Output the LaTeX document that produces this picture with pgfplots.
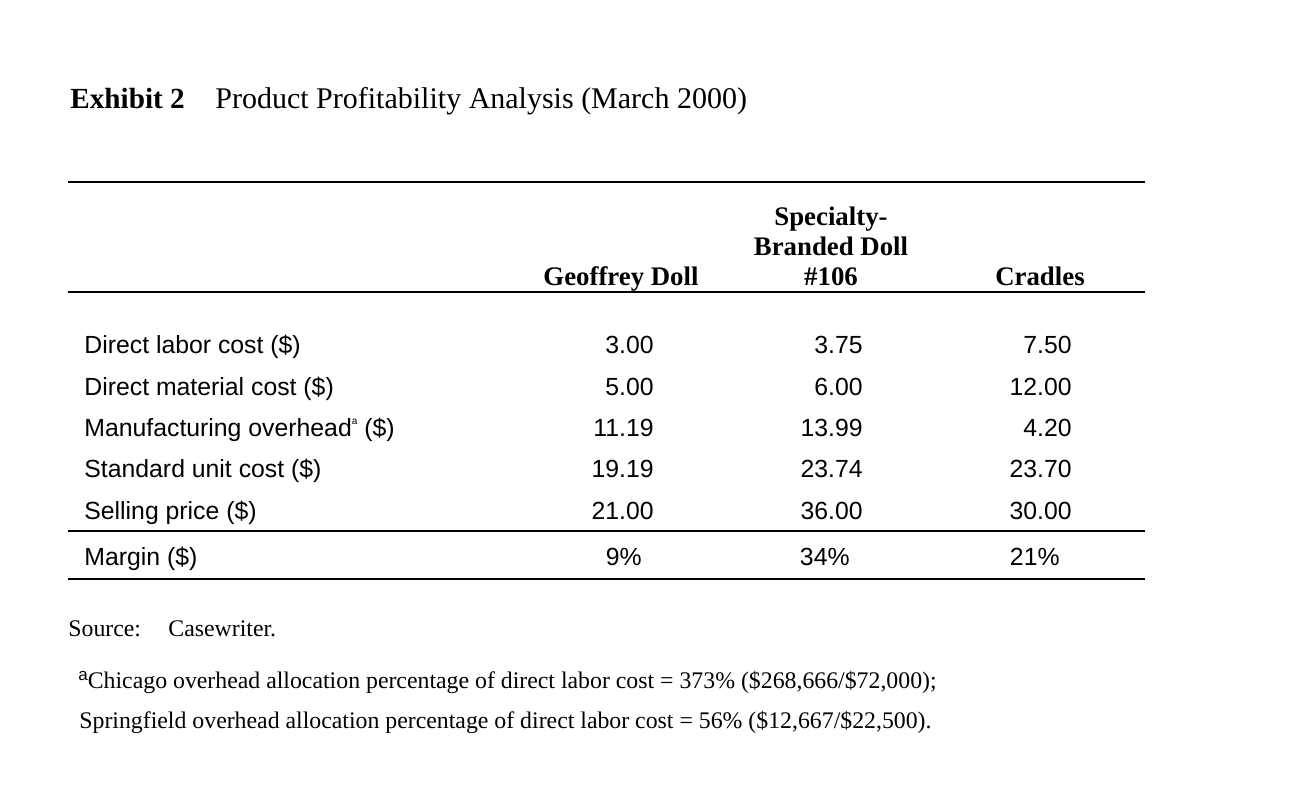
\documentclass[border=0pt]{standalone}
\usepackage{pgfplots}
\pgfplotsset{compat=1.18}
\usepackage{pgfplotstable}
\usepackage{fontspec}
\setmainfont{Liberation Serif}
\setsansfont{Liberation Sans}

% column x = right edge of the number (px), y = baseline (px)
\pgfplotstableread{
x y label
654 353 3.00
654 395 5.00
654 436 11.19
654 477 19.19
654 519 21.00
642 565 9\%
}\geoffrey
\pgfplotstableread{
x y label
863 353 3.75
863 395 6.00
863 436 13.99
863 477 23.74
863 519 36.00
850 565 34\%
}\specialty
\pgfplotstableread{
x y label
1072 353 7.50
1072 395 12.00
1072 436 4.20
1072 477 23.70
1072 519 30.00
1060 565 21\%
}\cradles

\begin{document}
\begin{tikzpicture}
\begin{axis}[
  scale only axis, width=645pt, height=394pt,
  xmin=0, xmax=1290, ymin=0, ymax=788, y dir=reverse,
  axis lines=none, clip=false,
]
\path (axis cs:0,0) rectangle (axis cs:1290,788);
\pgfplotsset{cell/.style={draw=none, mark=none, nodes near coords, point meta=explicit symbolic,
  nodes near coords style={anchor=base east, inner sep=0pt, font=\sffamily\fontsize{12.4}{14}\selectfont, text=black}}}
\addplot[cell] table[meta=label] {\geoffrey};
\addplot[cell] table[meta=label] {\specialty};
\addplot[cell] table[meta=label] {\cradles};

% rules
\addplot[black, line width=1pt] coordinates {(68,182) (1145,182)};
\addplot[black, line width=1pt] coordinates {(68,292) (1145,292)};
\addplot[black, line width=1pt] coordinates {(68,531) (1145,531)};
\addplot[black, line width=1pt] coordinates {(68,579) (1145,579)};

% title
\node[anchor=base west, inner sep=0pt, font=\fontsize{14.6}{17}\selectfont\bfseries] at (axis cs:70,108) {Exhibit 2};
\node[anchor=base west, inner sep=0pt, font=\fontsize{15}{17}\selectfont] at (axis cs:215,108) {Product Profitability Analysis (March 2000)};

% headers
\tikzset{hd/.style={anchor=base, inner sep=0pt, font=\fontsize{13.4}{15}\selectfont\bfseries}}
\node[hd] at (axis cs:621,285) {Geoffrey Doll};
\node[hd] at (axis cs:831,225) {Specialty-};
\node[hd] at (axis cs:831,255) {Branded Doll};
\node[hd] at (axis cs:831,285) {\#106};
\node[hd] at (axis cs:1040,285) {Cradles};

% row labels
\tikzset{rl/.style={anchor=base west, inner sep=0pt, font=\sffamily\fontsize{12.4}{14}\selectfont}}
\node[rl] at (axis cs:84,353) {Direct labor cost (\$)};
\node[rl] at (axis cs:84,395) {Direct material cost (\$)};
\node[rl] at (axis cs:84,436) {Manufacturing overhead\raisebox{0.9ex}{\fontsize{5}{6}\selectfont a} (\$)};
\node[rl] at (axis cs:84,477) {Standard unit cost (\$)};
\node[rl] at (axis cs:84,519) {Selling price (\$)};
\node[rl] at (axis cs:84,565) {Margin (\$)};

% notes
\tikzset{nt/.style={anchor=base west, inner sep=0pt, font=\fontsize{11.9}{14}\selectfont}}
\node[nt] at (axis cs:68,636) {Source:};
\node[nt] at (axis cs:168,636) {Casewriter.};
\node[nt] at (axis cs:78,688) {\raisebox{0.7ex}{\sffamily\fontsize{8.5}{9}\selectfont a}Chicago overhead allocation percentage of direct labor cost = 373\% (\$268,666/\$72,000);};
\node[nt] at (axis cs:79,728) {Springfield overhead allocation percentage of direct labor cost = 56\% (\$12,667/\$22,500).};
\end{axis}
\end{tikzpicture}
\end{document}
